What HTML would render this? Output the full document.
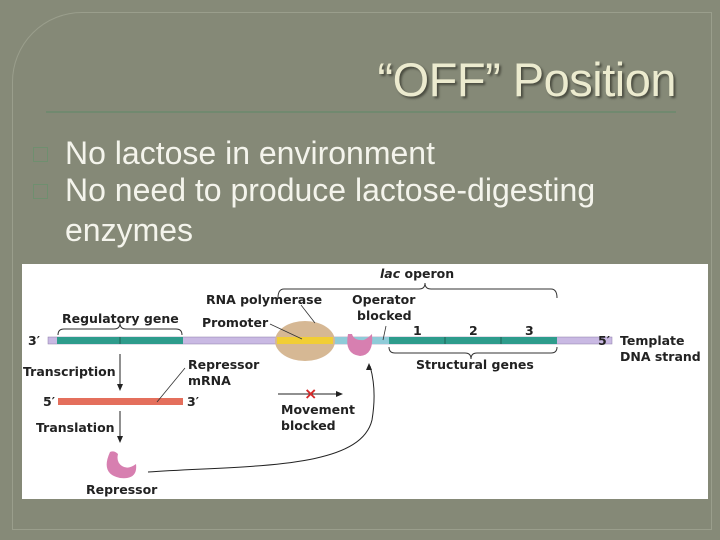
<!DOCTYPE html>
<html><head><style>
body{margin:0;width:720px;height:540px;background:#868a78;overflow:hidden;position:relative;font-family:"Liberation Sans",sans-serif}
.panel{position:absolute;left:12px;top:12px;width:698px;height:516px;border:1px solid #9a9e8c;border-radius:70px 0 0 0;background:#858977}
.title{position:absolute;right:44px;top:52px;font-size:47px;color:#ecebcf;text-shadow:2px 2px 2px #4a4c40;letter-spacing:-0.5px}
.rule{position:absolute;left:46px;top:111px;width:630px;height:2px;background:#71896f}
.b{position:absolute;left:65px;font-size:32px;line-height:36px;color:#f4f4ec;white-space:nowrap}
.sq{position:absolute;left:33px;width:13px;height:13px;border:1px solid #6f8f6f}
svg{position:absolute;left:0;top:0}
svg text{font-family:"DejaVu Sans","Liberation Sans",sans-serif;font-weight:bold;font-size:12.5px;fill:#222}
</style></head><body>
<div class="panel"></div>
<div class="title">“OFF” Position</div>
<div class="rule"></div>
<div class="sq" style="top:147px"></div>
<div class="sq" style="top:184px"></div>
<div class="b" style="top:135px">No lactose in environment</div>
<div class="b" style="top:172px">No need to produce lactose-digesting</div>
<div class="b" style="top:212px">enzymes</div>
<svg width="720" height="540">
<rect x="22" y="264" width="686" height="235" fill="#fff"/>
<rect x="48" y="337" width="564" height="7" fill="#c9b9e3" stroke="#8a7aa8" stroke-width="0.5"/>
<rect x="57" y="337" width="126" height="7" fill="#2e9c8c"/>
<line x1="120" y1="337" x2="120" y2="344" stroke="#1d5f55"/>
<rect x="333" y="337" width="56" height="7" fill="#8fcbd8"/>
<rect x="389" y="337" width="168" height="7" fill="#2e9c8c"/>
<line x1="445" y1="337" x2="445" y2="344" stroke="#1d5f55"/>
<line x1="501" y1="337" x2="501" y2="344" stroke="#1d5f55"/>
<ellipse cx="305" cy="341" rx="30" ry="20" fill="#d6b894"/>
<rect x="277" y="337" width="56" height="7" fill="#f4d02a" opacity="0.9"/>
<path d="M348 334 q-4 20 12 22 q14 -1 12 -22 q-4 4 -8 6 q-10 1 -12 -6z" fill="#d77fb0"/>
<path d="M110 452 q-10 22 10 26 q18 2 16 -14 q-8 6 -14 2 q-6 -4 -4 -12 q-4 -4 -8 -2z" fill="#d77fb0"/>
<rect x="58" y="398" width="125" height="7" fill="#e46f5c"/>
<path d="M58 335 q0 -6 6 -6 h50 q6 0 6 -6 q0 6 6 6 h50 q6 0 6 6" fill="none" stroke="#333" stroke-width="1"/>
<path d="M278 298 q0 -9 6 -9 h135 q6 0 6 -6 q0 6 6 6 h120 q6 0 6 9" fill="none" stroke="#333" stroke-width="1"/>
<path d="M389 347 q0 6 6 6 h70 q6 0 6 6 q0 -6 6 -6 h74 q6 0 6 -6" fill="none" stroke="#333" stroke-width="1"/>
<line x1="120" y1="354" x2="120" y2="388" stroke="#222"/>
<path d="M117 384 l3 7 l3 -7z" fill="#222"/>
<line x1="120" y1="411" x2="120" y2="440" stroke="#222"/>
<path d="M117 436 l3 7 l3 -7z" fill="#222"/>
<line x1="278" y1="394" x2="338" y2="394" stroke="#222"/>
<path d="M336 391 l7 3 l-7 3z" fill="#222"/>
<text x="304" y="399" style="fill:#d62a2a;font-size:16px">×</text>
<path d="M148 472 C250 465 360 470 372 420 Q377 390 370 366" fill="none" stroke="#222"/>
<path d="M366 370 l3 -7 l3 7z" fill="#222"/>
<line x1="185" y1="368" x2="157" y2="402" stroke="#333" stroke-width="0.8"/>
<line x1="270" y1="324" x2="302" y2="339" stroke="#333" stroke-width="0.8"/>
<line x1="301" y1="305" x2="315" y2="323" stroke="#333" stroke-width="0.8"/>
<line x1="386" y1="326" x2="383" y2="340" stroke="#333" stroke-width="0.8"/>
<text x="380" y="278"><tspan font-style="italic">lac</tspan> operon</text>
<text x="206" y="304">RNA polymerase</text>
<text x="352" y="304">Operator</text>
<text x="357" y="320">blocked</text>
<text x="62" y="323">Regulatory gene</text>
<text x="202" y="327">Promoter</text>
<text x="28" y="345">3′</text>
<text x="413" y="335">1</text>
<text x="469" y="335">2</text>
<text x="525" y="335">3</text>
<text x="598" y="345">5′</text>
<text x="620" y="345">Template</text>
<text x="620" y="361">DNA strand</text>
<text x="416" y="369">Structural genes</text>
<text x="23" y="376">Transcription</text>
<text x="188" y="369">Repressor</text>
<text x="188" y="385">mRNA</text>
<text x="43" y="406">5′</text>
<text x="187" y="406">3′</text>
<text x="281" y="414">Movement</text>
<text x="281" y="430">blocked</text>
<text x="36" y="432">Translation</text>
<text x="86" y="494">Repressor</text>
</svg>
</body></html>
